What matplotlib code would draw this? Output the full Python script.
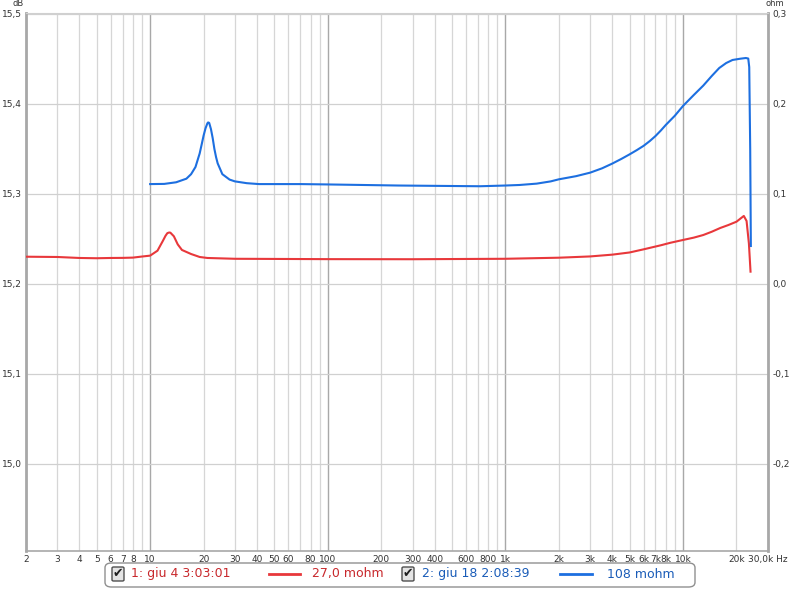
import matplotlib
matplotlib.use("Agg")
import matplotlib.pyplot as plt
from matplotlib.patches import FancyBboxPatch
from matplotlib.lines import Line2D

# measurement 1 (red), frequency in Hz, level in dB
f_red = [2, 3, 4, 5, 6, 7, 8, 9, 10, 11, 11.8, 12.2, 12.5, 12.8, 13, 13.6, 14.3, 15.1, 17,
         19, 21, 30, 100, 300, 1000, 2000, 3000, 4000, 5000, 6000, 7500, 8500, 10000, 11500,
         13000, 14500, 16200, 18000, 20000, 22000, 22800, 23500, 24000]
db_red = [15.2303, 15.2300, 15.2289, 15.2286, 15.2289, 15.2290, 15.2293, 15.2305, 15.2315,
          15.2370, 15.2480, 15.2535, 15.2565, 15.2572, 15.2570, 15.2530, 15.2440, 15.2378,
          15.2333, 15.2300, 15.2289, 15.2280, 15.2276, 15.2275, 15.2280, 15.2292, 15.2306,
          15.2326, 15.2350, 15.2385, 15.2430, 15.2458, 15.2489, 15.2515, 15.2544, 15.2580,
          15.2622, 15.2655, 15.2692, 15.2756, 15.2700, 15.2450, 15.2137]

# measurement 2 (blue)
f_blue = [10, 12, 14, 16, 17, 18, 19, 19.5, 20, 20.5, 21, 21.2, 21.5, 22, 22.5, 23, 23.5, 24,
          25.5, 28, 30, 35, 41, 70, 100, 250, 480, 720, 1000, 1200, 1500, 1800, 2000, 2500,
          3000, 3500, 4000, 4500, 5000, 5500, 6000, 6500, 7000, 7500, 8000, 9000, 10000,
          11500, 13000, 14500, 16000, 17500, 19000, 21000, 22600, 23300, 23600, 23900, 24100]
db_blue = [15.3110, 15.3112, 15.3130, 15.3170, 15.3220, 15.3300, 15.3450, 15.3550, 15.3650,
           15.3730, 15.3785, 15.3795, 15.3790, 15.3720, 15.3620, 15.3500, 15.3410, 15.3340,
           15.3220, 15.3160, 15.3140, 15.3120, 15.3110, 15.3110, 15.3106, 15.3094, 15.3089,
           15.3086, 15.3094, 15.3100, 15.3115, 15.3140, 15.3163, 15.3198, 15.3237, 15.3285,
           15.3338, 15.3390, 15.3440, 15.3488, 15.3535, 15.3588, 15.3644, 15.3705, 15.3767,
           15.3870, 15.3978, 15.4100, 15.4204, 15.4310, 15.4400, 15.4455, 15.4489, 15.4503,
           15.4511, 15.4505, 15.4410, 15.3500, 15.2422]

x_ticks = [2, 3, 4, 5, 6, 7, 8, 10, 20, 30, 40, 50, 60, 80, 100, 200, 300, 400, 600, 800,
           1000, 2000, 3000, 4000, 5000, 6000, 7000, 8000, 10000, 20000, 30000]
x_labels = ["2", "3", "4", "5", "6", "7", "8", "10", "20", "30", "40", "50", "60", "80",
            "100", "200", "300", "400", "600", "800", "1k", "2k", "3k", "4k", "5k", "6k",
            "7k", "8k", "10k", "20k", "30,0k Hz"]
db_ticks = [15.0, 15.1, 15.2, 15.3, 15.4, 15.5]
ohm_ticks = [-0.2, -0.1, 0.0, 0.1, 0.2, 0.3]

red = "#e8383b"
blue = "#1d6fe0"

fig = plt.figure(figsize=(8, 5.89), dpi=100)
ax = fig.add_axes([26 / 800, 38 / 589, 742 / 800, 538 / 589])
ax.set_xscale("log")
ax.set_xlim(2, 30100)
ax.set_ylim(14.9033, 15.5011)

# grid
minor = [m * 10 ** d for d in range(0, 5) for m in range(2, 10) if 2 <= m * 10 ** d <= 30000]
for v in minor:
    ax.axvline(v, color="#d6d6d6", lw=0.9, zorder=0)
for v in [10, 100, 1000, 10000]:
    ax.axvline(v, color="#a8a8a8", lw=1.0, zorder=0)
for v in db_ticks:
    ax.axhline(v, color="#d0d0d0", lw=0.9, zorder=0)

ax.plot(f_red, db_red, color=red, lw=1.5, zorder=3)
ax.plot(f_blue, db_blue, color=blue, lw=1.5, zorder=4)

ax.set_xticks(x_ticks)
ax.set_xticklabels(x_labels)
ax.xaxis.set_minor_locator(matplotlib.ticker.NullLocator())
ax.set_yticks(db_ticks)
ax.set_yticklabels([("%.1f" % v).replace(".", ",") for v in db_ticks])
ax.tick_params(length=0, labelsize=6.5, colors="#333333", pad=3)

for s in ["left", "bottom", "right"]:
    ax.spines[s].set_color("#a8a8a8")
ax.spines["left"].set_linewidth(2)
ax.spines["right"].set_linewidth(2)
ax.spines["bottom"].set_linewidth(1.2)
ax.spines["top"].set_color("#d0d0d0")

ax2 = ax.twinx()
ax2.set_ylim(14.9033 - 15.2, 15.5011 - 15.2)
ax2.set_yticks(ohm_ticks)
ax2.set_yticklabels([("%.1f" % v).replace(".", ",").replace("-0,0", "0,0") for v in ohm_ticks])
ax2.tick_params(length=0, labelsize=6.5, colors="#333333", pad=3)
for s in ax2.spines.values():
    s.set_visible(False)

fig.text(18 / 800, 1 - 4 / 589, "dB", fontsize=6, color="#333333", ha="center", va="center")
fig.text(775 / 800, 1 - 4 / 589, "ohm", fontsize=6, color="#333333", ha="center", va="center")

# legend box
H = 589.0
fig.patches.append(FancyBboxPatch((105 / 800, 1 - 587 / H), 590 / 800, 24 / H,
                                  boxstyle="round,pad=0,rounding_size=0.008",
                                  transform=fig.transFigure, fc="white", ec="#909090", lw=1))
yc = 1 - 574 / H
for x0 in [112, 402]:
    fig.patches.append(FancyBboxPatch((x0 / 800, 1 - 581 / H), 12 / 800, 14 / H,
                                      boxstyle="round,pad=0,rounding_size=0.002",
                                      transform=fig.transFigure, fc="#e4e4e4", ec="#505050", lw=1))
    fig.text((x0 + 6) / 800, yc, "\u2714", fontsize=9, color="#202020", ha="center", va="center")
fig.text(131 / 800, yc, "1: giu 4 3:03:01", fontsize=9, color="#c8282c", va="center")
fig.lines.append(Line2D([269 / 800, 300 / 800], [yc, yc], color=red, lw=2, transform=fig.transFigure))
fig.text(312 / 800, yc, "27,0 mohm", fontsize=9, color="#c8282c", va="center")
fig.text(422 / 800, yc, "2: giu 18 2:08:39", fontsize=9, color="#1a5cb8", va="center")
fig.lines.append(Line2D([560 / 800, 592 / 800], [yc, yc], color=blue, lw=2, transform=fig.transFigure))
fig.text(607 / 800, yc, "108 mohm", fontsize=9, color="#1a5cb8", va="center")

fig.savefig("out.png", dpi=100)
